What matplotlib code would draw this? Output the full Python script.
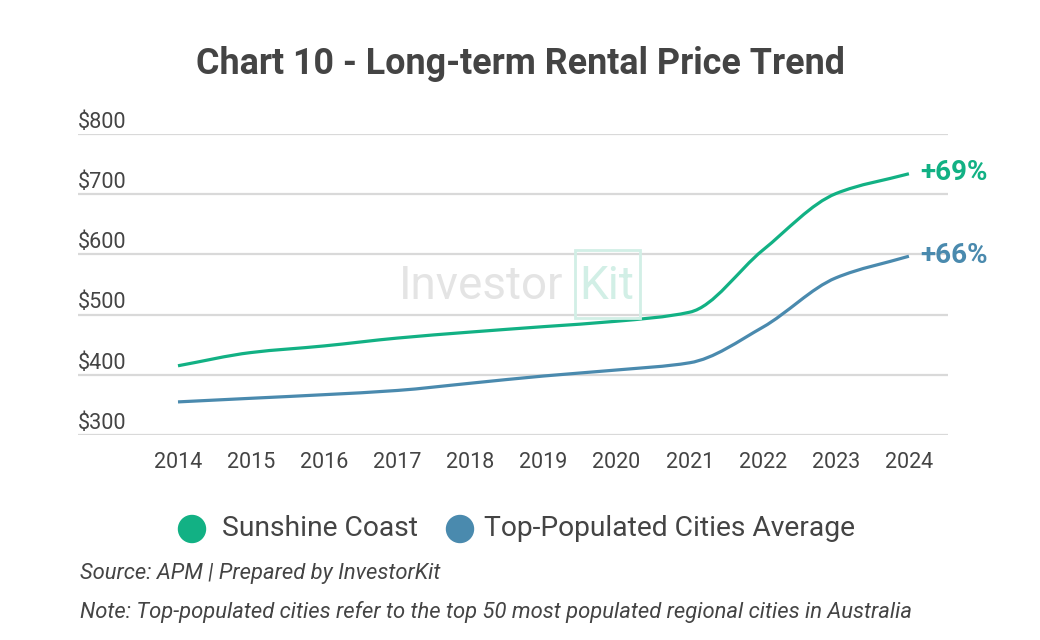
import numpy as np
import matplotlib
matplotlib.use("Agg")
import matplotlib.pyplot as plt
from matplotlib.path import Path
from matplotlib.patches import PathPatch, Rectangle, Circle

plt.rcParams['font.family'] = ['Roboto', 'DejaVu Sans']

years = [2014, 2015, 2016, 2017, 2018, 2019, 2020, 2021, 2022, 2023, 2024]
sunshine = [415, 437, 448, 461, 471, 480, 489, 504, 607, 701, 734]
top_cities = [355, 361, 367, 374, 386, 398, 408, 420, 479, 561, 597]
series_names = ['Sunshine Coast', 'Top-Populated Cities Average']
growth_labels = ['+69%', '+66%']
y_ticks = [300, 400, 500, 600, 700, 800]

GREEN = '#12b184'
BLUE = '#4a8aae'
TEXT = '#444444'
GRID = '#d9d9d9'


def smooth_path(x, y):
    # monotone cubic (Fritsch-Carlson) turned into bezier segments
    x = np.asarray(x, float)
    y = np.asarray(y, float)
    h = np.diff(x)
    d = np.diff(y) / h
    m = np.zeros_like(y)
    m[0], m[-1] = d[0], d[-1]
    for i in range(1, len(y) - 1):
        if d[i - 1] * d[i] <= 0:
            m[i] = 0
        else:
            w1 = 2 * h[i] + h[i - 1]
            w2 = h[i] + 2 * h[i - 1]
            m[i] = (w1 + w2) / (w1 / d[i - 1] + w2 / d[i])
    verts = [(x[0], y[0])]
    codes = [Path.MOVETO]
    for i in range(len(x) - 1):
        verts += [(x[i] + h[i] / 3, y[i] + m[i] * h[i] / 3),
                  (x[i + 1] - h[i] / 3, y[i + 1] - m[i + 1] * h[i] / 3),
                  (x[i + 1], y[i + 1])]
        codes += [Path.CURVE4] * 3
    return Path(verts, codes)


fig = plt.figure(figsize=(10.4, 6.4), dpi=100)
ax = fig.add_axes([0.075, 0.3203, 0.8365, 0.4703])
ax.set_xlim(2012.632, 2024.534)
ax.set_ylim(300, 800)

for v in y_ticks:
    ax.axhline(v, color=GRID, lw=1.6, zorder=1)
    ax.text(0.0, v + 2, f'${v}', transform=ax.get_yaxis_transform(),
            ha='left', va='bottom', fontsize=15.6, color=TEXT)

for vals, col in [(sunshine, GREEN), (top_cities, BLUE)]:
    ax.add_patch(PathPatch(smooth_path(years, vals), fill=False,
                           edgecolor=col, lw=2.3, capstyle='butt', zorder=3))

ax.text(years[-1] + 0.15, sunshine[-1] + 2, growth_labels[0], color=GREEN,
        fontsize=20, fontweight='bold', ha='left', va='center')
ax.text(years[-1] + 0.15, top_cities[-1] + 2, growth_labels[1], color=BLUE,
        fontsize=20, fontweight='bold', ha='left', va='center')

ax.set_xticks(years)
ax.set_xticklabels([str(y) for y in years])
ax.tick_params(axis='x', length=0, labelsize=15.5, labelcolor=TEXT, pad=12)
ax.set_yticks([])
for s in ax.spines.values():
    s.set_visible(False)

# watermark
fig.text(0.384, 0.553, 'Investor', fontsize=33, color='#e4e4e4', ha='left', va='center')
fig.text(0.557, 0.553, 'Kit', fontsize=33, color='#d2efe6', ha='left', va='center')
fig.patches.append(Rectangle((0.553, 0.503), 0.062, 0.106, transform=fig.transFigure,
                             fill=False, edgecolor='#d2efe6', lw=2))

fig.suptitle('Chart 10 - Long-term Rental Price Trend', x=0.5, y=0.9,
             fontsize=25.8, fontweight='bold', color=TEXT, va='center')

# legend
for cx, tx, name, col in [(192, 222, series_names[0], GREEN),
                          (460, 484, series_names[1], BLUE)]:
    fig.patches.append(Circle((cx, 640 - 529), 13.5, transform=None, color=col))
    fig.text(tx / 1040, 1 - 528 / 640, name, fontsize=20.3, color=TEXT,
             ha='left', va='center')

fig.text(0.077, 1 - 573 / 640, 'Source: APM | Prepared by InvestorKit',
         fontsize=15.8, style='italic', color=TEXT, ha='left', va='center')
fig.text(0.077, 1 - 612 / 640,
         'Note: Top-populated cities refer to the top 50 most populated regional cities in Australia',
         fontsize=15.8, style='italic', color=TEXT, ha='left', va='center')

fig.savefig('out.png', dpi=100, facecolor='white')
